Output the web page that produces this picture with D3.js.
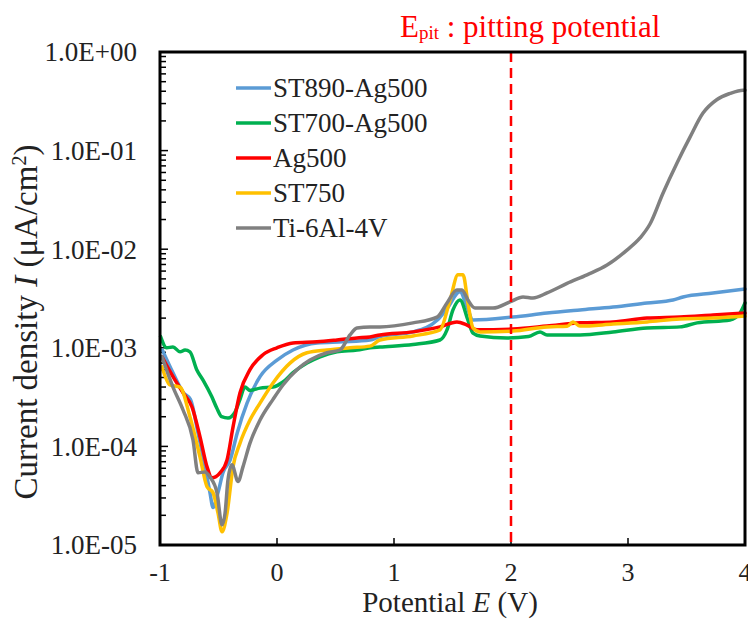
<!DOCTYPE html>
<html><head><meta charset="utf-8">
<script src="https://cdn.jsdelivr.net/npm/d3@7"></script>
<style>body{margin:0;background:#fff}svg{display:block}text{font-family:"Liberation Serif","Times New Roman",serif}</style>
</head><body><div id="chart"></div>
<script>
const seriesNames = ["ST890-Ag500","ST700-Ag500","Ag500","ST750","Ti-6Al-4V"];
const seriesColors = ["#5B9BD5","#00B050","#FF0000","#FFC000","#808080"];
const xTicks = [-1,0,1,2,3,4];
const yTickLabels = ["1.0E+00","1.0E-01","1.0E-02","1.0E-03","1.0E-04","1.0E-05"];
const epit = 2;

const blueE = [-0.98,-0.89,-0.80,-0.74,-0.675,-0.615,-0.573,-0.547,-0.504,-0.462,-0.40,-0.34,-0.256,-0.145,0.0,0.137,0.342,0.564,0.795,0.88,1.162,1.368,1.453,1.564,1.624,1.675,2.017,2.308,2.59,2.872,3.162,3.385,3.47,3.726,4.0];
const blueI = [9.5e-4,5.6e-4,3.5e-4,3.0e-4,1.37e-4,6.2e-5,3.4e-5,2.4e-5,3.4e-5,5.4e-5,7.3e-5,1.37e-4,2.75e-4,5.1e-4,7.5e-4,9.5e-4,1.12e-3,1.15e-3,1.2e-3,1.3e-3,1.45e-3,1.9e-3,2.5e-3,3.7e-3,2.6e-3,1.91e-3,2.05e-3,2.25e-3,2.42e-3,2.59e-3,2.85e-3,3.05e-3,3.28e-3,3.6e-3,3.95e-3];

const greenE = [-0.995,-0.943,-0.889,-0.829,-0.786,-0.744,-0.686,-0.632,-0.558,-0.515,-0.473,-0.419,-0.359,-0.316,-0.274,-0.231,-0.145,-0.034,0.051,0.137,0.256,0.368,0.513,0.684,0.795,0.88,1.162,1.393,1.453,1.504,1.564,1.632,1.675,1.735,1.966,2.15,2.248,2.308,2.59,2.872,3.162,3.444,3.59,3.872,3.957,4.0];
const greenI = [1.3e-3,1.0e-3,1.02e-3,9.1e-4,9.5e-4,9.1e-4,6.0e-4,4.7e-4,3.2e-4,2.45e-4,2.0e-4,1.94e-4,2.23e-4,3.0e-4,4.0e-4,3.7e-4,3.9e-4,4.0e-4,4.5e-4,5.6e-4,7.0e-4,8.1e-4,9.1e-4,9.5e-4,1.0e-3,1.02e-3,1.08e-3,1.2e-3,1.52e-3,2.42e-3,3.05e-3,1.91e-3,1.41e-3,1.32e-3,1.26e-3,1.3e-3,1.45e-3,1.35e-3,1.35e-3,1.45e-3,1.59e-3,1.63e-3,1.79e-3,1.91e-3,2.25e-3,2.85e-3];

const redE = [-0.983,-0.889,-0.803,-0.726,-0.658,-0.598,-0.556,-0.487,-0.427,-0.376,-0.316,-0.231,-0.12,0.0,0.137,0.342,0.513,0.684,0.795,0.88,1.162,1.393,1.538,1.624,1.709,2.017,2.308,2.59,2.872,3.162,3.444,3.726,4.0];
const redI = [8.1e-4,5.1e-4,3.5e-4,2.5e-4,1.25e-4,6.2e-5,4.8e-5,5.4e-5,7.3e-5,1.57e-4,3.5e-4,6.0e-4,8.5e-4,1.0e-3,1.12e-3,1.15e-3,1.2e-3,1.26e-3,1.29e-3,1.35e-3,1.45e-3,1.63e-3,1.83e-3,1.7e-3,1.52e-3,1.55e-3,1.66e-3,1.79e-3,1.83e-3,2.0e-3,2.05e-3,2.15e-3,2.25e-3];

const yellowE = [-0.983,-0.915,-0.829,-0.744,-0.658,-0.598,-0.547,-0.504,-0.47,-0.427,-0.376,-0.316,-0.231,-0.145,-0.034,0.111,0.256,0.427,0.624,0.795,0.88,1.162,1.393,1.479,1.547,1.59,1.632,1.675,1.735,2.017,2.308,2.48,2.53,2.59,2.872,3.162,3.444,3.726,4.0];
const yellowI = [6.4e-4,4.2e-4,4.0e-4,2.0e-4,7.8e-5,3.9e-5,3.4e-5,2.1e-5,1.36e-5,2.1e-5,6.2e-5,1.08e-4,1.85e-4,2.75e-4,4.4e-4,7.0e-4,8.9e-4,9.5e-4,1.0e-3,1.04e-3,1.2e-3,1.32e-3,1.52e-3,3.05e-3,5.5e-3,5.5e-3,2.85e-3,1.59e-3,1.45e-3,1.48e-3,1.63e-3,1.65e-3,1.83e-3,1.66e-3,1.74e-3,1.83e-3,1.96e-3,2.0e-3,2.1e-3];

const grayE = [-0.983,-0.889,-0.803,-0.718,-0.675,-0.615,-0.573,-0.513,-0.47,-0.444,-0.419,-0.385,-0.333,-0.291,-0.231,-0.145,-0.034,0.051,0.171,0.282,0.427,0.538,0.624,0.684,0.795,0.88,1.162,1.368,1.453,1.538,1.581,1.632,1.692,1.846,1.991,2.103,2.188,2.308,2.479,2.65,2.821,2.991,3.103,3.188,3.299,3.419,3.53,3.641,3.761,3.872,3.983,4.0];
const grayI = [8.1e-4,4.0e-4,2.34e-4,1.16e-4,5.4e-5,5.5e-5,4.9e-5,3.4e-5,1.6e-5,2.1e-5,4.6e-5,6.5e-5,4.4e-5,6.2e-5,1.08e-4,1.85e-4,3.0e-4,4.2e-4,6.0e-4,7.5e-4,8.9e-4,9.5e-4,1.35e-3,1.59e-3,1.63e-3,1.63e-3,1.79e-3,2.05e-3,2.85e-3,3.86e-3,3.86e-3,3.05e-3,2.53e-3,2.53e-3,2.92e-3,3.28e-3,3.2e-3,3.6e-3,4.5e-3,5.5e-3,6.9e-3,9.8e-3,1.3e-2,1.8e-2,3.7e-2,7.5e-2,0.137,0.24,0.33,0.38,0.41,0.41];

const seriesE = [blueE, greenE, redE, yellowE, grayE];
const seriesI = [blueI, greenI, redI, yellowI, grayI];

const W = 748, H = 619;
const m = {left:160, right:3, top:52, bottom:74};
const svg = d3.select("#chart").append("svg").attr("width",W).attr("height",H);
const x = d3.scaleLinear().domain([-1,4]).range([m.left, W-m.right]);
const y = d3.scaleLog().domain([1e-5,1]).range([H-m.bottom, m.top]);

// minor + major ticks on left axis (inward)
const minor = [];
for (let e=-5;e<0;e++) for (let k=2;k<10;k++) minor.push(k*Math.pow(10,e));
const gy = svg.append("g").attr("transform",`translate(${m.left},0)`);
gy.selectAll("line.mn").data(minor).enter().append("line")
  .attr("x1",0).attr("x2",6).attr("y1",d=>y(d)).attr("y2",d=>y(d))
  .attr("stroke","#000").attr("stroke-width",1.5);
const majors = [1,1e-1,1e-2,1e-3,1e-4,1e-5];
gy.selectAll("line.mj").data(majors).enter().append("line")
  .attr("x1",0).attr("x2",8).attr("y1",d=>y(d)).attr("y2",d=>y(d))
  .attr("stroke","#000").attr("stroke-width",1.5);
svg.append("g").selectAll("text").data(majors).enter().append("text")
  .attr("x",137).attr("y",d=>y(d)).attr("dy","0.35em").attr("text-anchor","end")
  .attr("font-size",27).attr("fill","#222").text((d,i)=>yTickLabels[i]);

// x axis ticks inward
svg.append("g").selectAll("line").data(xTicks.slice(1,-1)).enter().append("line")
  .attr("x1",d=>x(d)).attr("x2",d=>x(d)).attr("y1",y(1e-5)).attr("y2",y(1e-5)-7)
  .attr("stroke","#000").attr("stroke-width",1.5);
svg.append("g").selectAll("text").data(xTicks).enter().append("text")
  .attr("x",d=>x(d)).attr("y",581).attr("text-anchor","middle")
  .attr("font-size",26).attr("fill","#222").text(d=>d);

// lines
const line = d3.line().x(d=>x(d[0])).y(d=>y(d[1])).curve(d3.curveMonotoneX);
seriesE.forEach((E,i)=>{
  const pts = E.map((e,j)=>[e, seriesI[i][j]]);
  svg.append("path").datum(pts).attr("d",line).attr("fill","none")
    .attr("stroke",seriesColors[i]).attr("stroke-width",3.5)
    .attr("stroke-linejoin","round").attr("stroke-linecap","round");
});

// Epit dashed line
svg.append("line").attr("x1",x(epit)).attr("x2",x(epit)).attr("y1",y(1)).attr("y2",y(1e-5))
  .attr("stroke","#FF0000").attr("stroke-width",2.5).attr("stroke-dasharray","10,6");

// frame
svg.append("rect").attr("x",m.left).attr("y",m.top).attr("width",W-m.right-m.left).attr("height",H-m.bottom-m.top)
  .attr("fill","none").attr("stroke","#000").attr("stroke-width",3);

// legend
const lg = svg.append("g");
seriesNames.forEach((n,i)=>{
  const yy = 88 + i*35;
  lg.append("line").attr("x1",236).attr("x2",271).attr("y1",yy).attr("y2",yy)
    .attr("stroke",seriesColors[i]).attr("stroke-width",3.5);
  lg.append("text").attr("x",273).attr("y",yy).attr("dy","0.35em")
    .attr("font-size",27).attr("fill","#222").text(n);
});

// titles
const xt = svg.append("text").attr("x",450).attr("y",612).attr("text-anchor","middle")
  .attr("font-size",29).attr("fill","#222");
xt.append("tspan").text("Potential ");
xt.append("tspan").attr("font-style","italic").text("E");
xt.append("tspan").text(" (V)");

const yt = svg.append("text").attr("transform","translate(37,322) rotate(-90)")
  .attr("text-anchor","middle").attr("font-size",33).attr("fill","#222");
yt.append("tspan").text("Current density ");
yt.append("tspan").attr("font-style","italic").text("I");
yt.append("tspan").text(" (μA/cm");
yt.append("tspan").attr("font-size",20).attr("baseline-shift","super").text("2");
yt.append("tspan").text(")");

const et = svg.append("text").attr("x",400).attr("y",37).attr("font-size",31).attr("fill","#FF0000");
et.append("tspan").text("E");
et.append("tspan").attr("font-size",19).attr("dy",2).text("pit");
et.append("tspan").attr("dy",-2).text(" : pitting potential");
</script></body></html>
